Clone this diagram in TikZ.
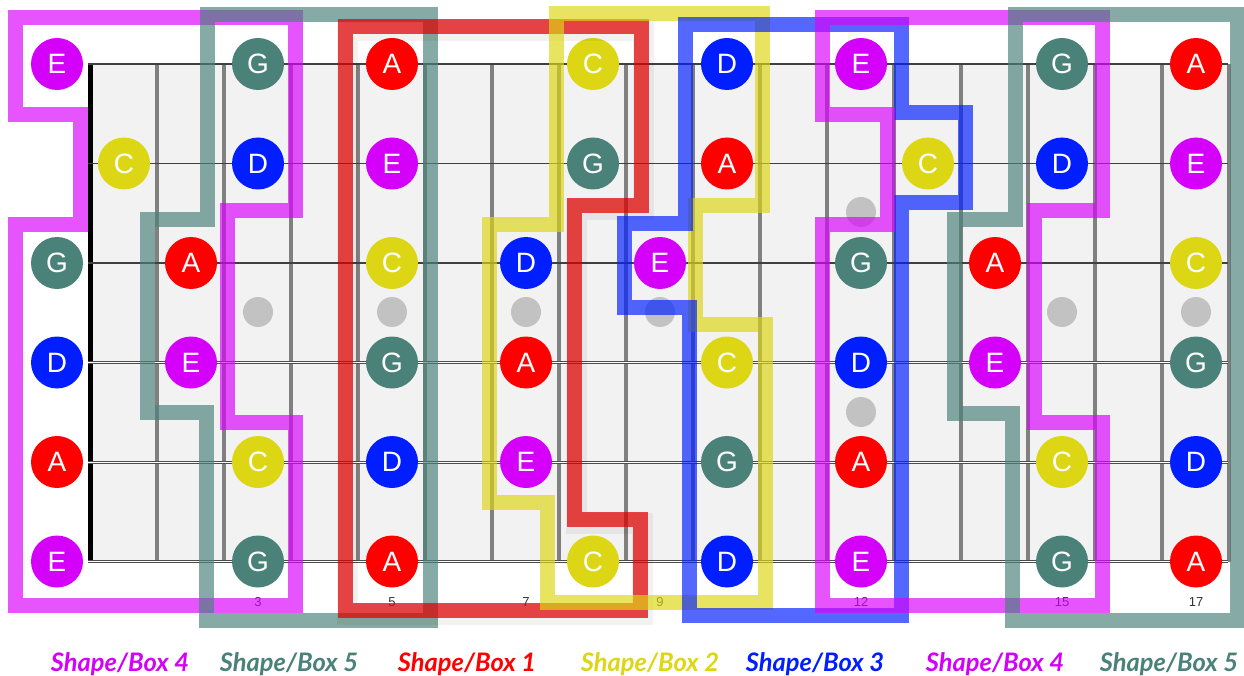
\documentclass[tikz,border=0pt]{standalone}
\usepackage{fontspec}
\newfontfamily\notefont{Liberation Sans}
\newfontfamily\legfont{Lato}
\definecolor{cE}{RGB}{213,0,249}
\definecolor{cG}{RGB}{74,130,122}
\definecolor{cA}{RGB}{255,0,0}
\definecolor{cD}{RGB}{0,30,255}
\definecolor{cC}{RGB}{221,214,20}
\definecolor{sM}{RGB}{218,0,252}
\definecolor{sT}{RGB}{74,130,122}
\definecolor{sR}{RGB}{225,0,0}
\definecolor{sY}{RGB}{221,214,20}
\definecolor{sB}{RGB}{0,30,255}
\definecolor{board}{RGB}{242,242,242}
\definecolor{fretc}{RGB}{128,128,128}
\definecolor{dotc}{RGB}{194,194,194}
\begin{document}
\begin{tikzpicture}[x=1pt,y=-1pt,
  note/.style={circle,minimum size=52pt,inner sep=0pt,text=white,font=\notefont\fontsize{28}{28}\selectfont},
  fretdot/.style={circle,minimum size=30pt,inner sep=0pt,fill=dotc},
  fretnum/.style={font=\notefont\fontsize{13}{13}\selectfont,text=black!80},
  shapebox/.style={line width=15pt,line join=miter,draw opacity=0.67},
  legend/.style={font=\legfont\bfseries\itshape\fontsize{25.5}{25.5}\selectfont}]
\useasboundingbox (0,0) rectangle (1244,676);
% fretboard
\fill[board] (90,64) rectangle (1228,561.5);
\foreach \k in {1,...,17}
  \draw[fretc,line width=4pt] ({90+67*\k},64) -- ({90+67*\k},561.5);
\draw[black,line width=5pt] (90,64) -- (90,561.5);
\foreach \s in {1,2,3}
  \draw[black!75,line width=1.2pt] (88,{64+99.5*(\s-1)}) -- (1228,{64+99.5*(\s-1)});
\foreach \s in {4,5,6}{
  \draw[black!70,line width=3pt] (88,{64+99.5*(\s-1)}) -- (1228,{64+99.5*(\s-1)});
  \draw[white,line width=1pt] (88,{64+99.5*(\s-1)}) -- (1228,{64+99.5*(\s-1)});}
% inlay dots
\node[fretdot] (d3) at (258,312) {};
\node[fretdot] (d5) at (392,312) {};
\node[fretdot] (d7) at (526,312) {};
\node[fretdot] (d9) at (660,312) {};
\node[fretdot] (d12a) at (861,212) {};
\node[fretdot] (d12b) at (861,412) {};
\node[fretdot] (d15) at (1062,312) {};
\node[fretdot] (d17) at (1196,312) {};
% fret numbers
\foreach \f in {3,5,7,9,12,15,17}
  \node[fretnum] (fn\f) at ({57+67*\f},602) {\f};
% notes
\foreach \s/\f/\n in {1/0/E,1/3/G,1/5/A,1/8/C,1/10/D,1/12/E,1/15/G,1/17/A,
  2/1/C,2/3/D,2/5/E,2/8/G,2/10/A,2/13/C,2/15/D,2/17/E,
  3/0/G,3/2/A,3/5/C,3/7/D,3/9/E,3/12/G,3/14/A,3/17/C,
  4/0/D,4/2/E,4/5/G,4/7/A,4/10/C,4/12/D,4/14/E,4/17/G,
  5/0/A,5/3/C,5/5/D,5/7/E,5/10/G,5/12/A,5/15/C,5/17/D,
  6/0/E,6/3/G,6/5/A,6/8/C,6/10/D,6/12/E,6/15/G,6/17/A}
  \node[note,fill=c\n] (n\s-\f) at ({57+67*\f},{64+99.5*(\s-1)}) {\n};
% shapes
\draw[shapebox,sM] (15,18)--(295,18)--(295,211)--(227,211)--(227,422)--(295,422)--(295,605)--(15,605)--(15,225)--(80,225)--(80,115)--(15,115)--cycle;
\draw[shapebox,sT] (207,15)--(430,15)--(430,620)--(206,620)--(206,412)--(147,412)--(147,220)--(207,220)--cycle;
% soft shadow of box 1
\draw[black,line width=21pt,line join=miter,draw opacity=0.05,shift={(2,4)}] (345,27)--(641,27)--(641,206)--(574,206)--(574,519)--(640,519)--(640,610)--(345,610)--cycle;
\draw[shapebox,sR,draw opacity=0.72] (345,27)--(641,27)--(641,206)--(574,206)--(574,519)--(640,519)--(640,610)--(345,610)--cycle;
\draw[shapebox,sY] (556,14)--(762,14)--(762,206)--(695,206)--(695,324)--(765,324)--(765,602)--(547,602)--(547,502)--(489,502)--(489,225)--(556,225)--cycle;
\draw[shapebox,sB] (685,25)--(901,25)--(901,113)--(965,113)--(965,203)--(901,203)--(901,615)--(689,615)--(689,307)--(624,307)--(624,224)--(685,224)--cycle;
\draw[shapebox,sM] (822,18)--(1102,18)--(1102,211)--(1034,211)--(1034,422)--(1102,422)--(1102,605)--(822,605)--(822,225)--(887,225)--(887,115)--(822,115)--cycle;
\draw[shapebox,sT] (1015,15)--(1237,15)--(1237,620)--(1012,620)--(1012,413)--(954,413)--(954,220)--(1015,220)--cycle;
% legend
\node[legend,text=cE] (l1) at (120,664) {Shape/Box 4};
\node[legend,text=cG] (l2) at (289,664) {Shape/Box 5};
\node[legend,text=cA] (l3) at (467,664) {Shape/Box 1};
\node[legend,text=cC] (l4) at (650,664) {Shape/Box 2};
\node[legend,text=cD] (l5) at (815,664) {Shape/Box 3};
\node[legend,text=cE] (l6) at (995,664) {Shape/Box 4};
\node[legend,text=cG] (l7) at (1169,664) {Shape/Box 5};
\end{tikzpicture}
\end{document}
